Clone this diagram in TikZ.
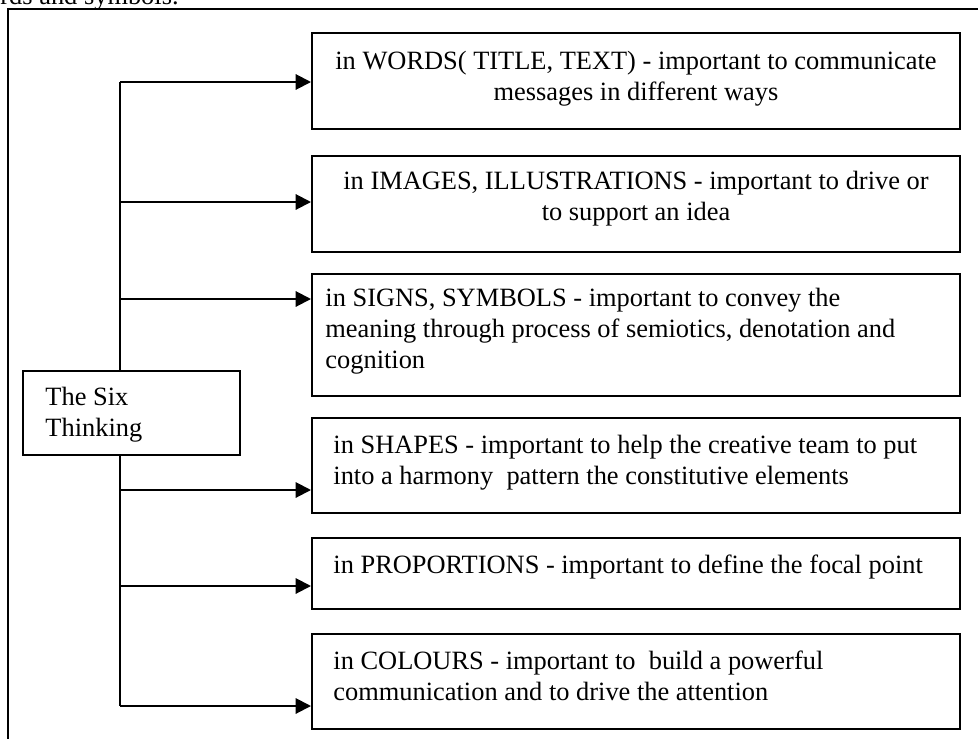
\documentclass[tikz,border=0pt]{standalone}
\usepackage{fontspec}
\setmainfont{Liberation Serif}
\usetikzlibrary{arrows.meta, fit}

\tikzset{
  box/.style={draw, line width=0.9pt, inner sep=0pt},
  txt/.style={font=\fontsize{12}{14}\selectfont, inner sep=0pt},
  link/.style={draw, line width=0.9pt, -{Triangle[length=7pt, width=7pt]}},
}

\begin{document}
\begin{tikzpicture}[x=0.4545pt, y=-0.4545pt]
\useasboundingbox (0,0) rectangle (978,739);
% page frame, cut by the picture
\draw[line width=1pt] (8,760) -- (8,9) -- (1000,9);
\node[txt, anchor=base west] (prev) at (0,4) {rds and symbols.};

% base anchors sit on the last line of each text
\node[box, fit={(23,371) (240,455)}] (six) {};
\node[txt, align=left, anchor=base west] (sixtxt) at (45,436) {The Six\\Thinking};

\node[box, fit={(312,33) (960,129)}] (words) {};
\node[box, fit={(312,156) (960,252)}] (images) {};
\node[box, fit={(312,274) (960,396)}] (signs) {};
\node[box, fit={(312,418) (960,513)}] (shapes) {};
\node[box, fit={(312,538) (960,609)}] (props) {};
\node[box, fit={(312,634) (960,729)}] (colours) {};

\node[txt, align=center, anchor=base] (wordstxt) at (636,100)
  {in WORDS( TITLE, TEXT) - important to communicate\\messages in different ways};
\node[txt, align=center, anchor=base] (imagestxt) at (636,220)
  {in IMAGES, ILLUSTRATIONS - important to drive or\\to support an idea};
\node[txt, align=left, anchor=base west] (signstxt) at (325,368)
  {in SIGNS, SYMBOLS - important to convey the\\meaning through process of semiotics, denotation and\\cognition};
\node[txt, align=left, anchor=base west] (shapestxt) at (333,484)
  {in SHAPES - important to help the creative team to put\\into a harmony~ pattern the constitutive elements};
\node[txt, align=left, anchor=base west] (propstxt) at (333,573)
  {in PROPORTIONS - important to define the focal point};
\node[txt, align=left, anchor=base west] (colourstxt) at (333,700)
  {in COLOURS - important to~ build a powerful\\communication and to drive the attention};

% trunk
\coordinate (t1) at (120,82);
\coordinate (t2) at (120,202);
\coordinate (t3) at (120,299);
\coordinate (t4) at (120,490);
\coordinate (t5) at (120,586);
\coordinate (t6) at (120,706);
\draw[line width=0.9pt] (t1) -- (t1 |- six.north);
\draw[line width=0.9pt] (t1 |- six.south) -- (t6);

\draw[link] (t1) -- (t1 -| words.west);
\draw[link] (t2) -- (t2 -| images.west);
\draw[link] (t3) -- (t3 -| signs.west);
\draw[link] (t4) -- (t4 -| shapes.west);
\draw[link] (t5) -- (t5 -| props.west);
\draw[link] (t6) -- (t6 -| colours.west);
\end{tikzpicture}
\end{document}
